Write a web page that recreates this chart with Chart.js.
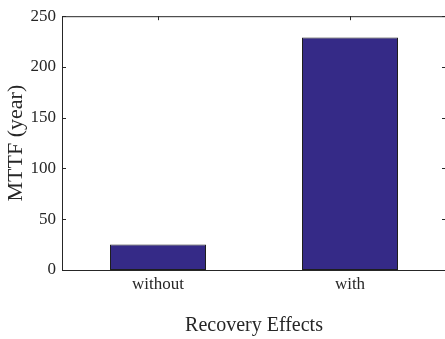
<!DOCTYPE html>
<html>
<head>
<meta charset="utf-8">
<script src="https://cdn.jsdelivr.net/npm/chart.js@4.4.0/dist/chart.umd.min.js"></script>
<style>
  html, body { margin: 0; padding: 0; background: #fff; overflow: hidden; }
  #wrap { width: 448px; height: 339px; }
</style>
</head>
<body>
<div id="wrap"><canvas id="mttfChart" width="448" height="339"></canvas></div>
<script>
// values
const categories = ['without', 'with'];
const mttfYears = [25, 229];
const yTicks = [0, 50, 100, 150, 200, 250];

const axisColor = '#262626';
Chart.defaults.font.family = '"Liberation Serif", "DejaVu Serif", serif';
Chart.defaults.font.size = 17;
Chart.defaults.color = axisColor;

// matlab-style box: top/right lines plus inward tick marks
const boxTicks = {
    id: 'boxTicks',
    afterDraw(chart) {
        const { ctx, chartArea: a, scales } = chart;
        ctx.save();
        ctx.strokeStyle = axisColor;
        ctx.lineWidth = 1;
        ctx.beginPath();
        ctx.moveTo(a.left, a.top + 0.5);
        ctx.lineTo(a.right, a.top + 0.5);
        ctx.moveTo(a.right - 0.5, a.top);
        ctx.lineTo(a.right - 0.5, a.bottom);
        yTicks.forEach(v => {
            const y = Math.round(scales.y.getPixelForValue(v)) + 0.5;
            ctx.moveTo(a.left, y);
            ctx.lineTo(a.left + 4, y);
            ctx.moveTo(a.right - 4, y);
            ctx.lineTo(a.right, y);
        });
        categories.forEach((c, i) => {
            const x = Math.round(scales.x.getPixelForValue(i)) + 0.5;
            ctx.moveTo(x, a.top);
            ctx.lineTo(x, a.top + 4);
        });
        ctx.stroke();
        ctx.restore();
    }
};

new Chart(document.getElementById('mttfChart').getContext('2d'), {
    type: 'bar',
    data: {
        labels: categories,
        datasets: [{
            data: mttfYears,
            backgroundColor: '#352a87',
            borderColor: '#1e1e1e',
            borderWidth: 1,
            borderSkipped: false,
            barPercentage: 0.5,
            categoryPercentage: 1
        }]
    },
    options: {
        responsive: false,
        animation: false,
        layout: { padding: { top: 12, right: 2, left: 0, bottom: 0 } },
        plugins: { legend: { display: false }, tooltip: { enabled: false } },
        scales: {
            x: {
                offset: true,
                grid: { display: false, drawTicks: false },
                border: { display: true, color: axisColor, width: 1 },
                ticks: { padding: 4, color: axisColor },
                title: { display: true, text: 'Recovery Effects', color: axisColor, font: { size: 20 }, padding: { top: 0, bottom: 1 } },
                afterFit: s => { s.height = 69; }
            },
            y: {
                min: 0,
                max: 250,
                grid: { display: false, drawTicks: false },
                border: { display: true, color: axisColor, width: 1 },
                ticks: { stepSize: 50, padding: 6, color: axisColor },
                title: { display: true, text: 'MTTF (year)', color: axisColor, font: { size: 22 }, padding: { top: 3, bottom: 0 } },
                afterFit: s => { s.width = 62; }
            }
        }
    },
    plugins: [boxTicks]
});
</script>
</body>
</html>
